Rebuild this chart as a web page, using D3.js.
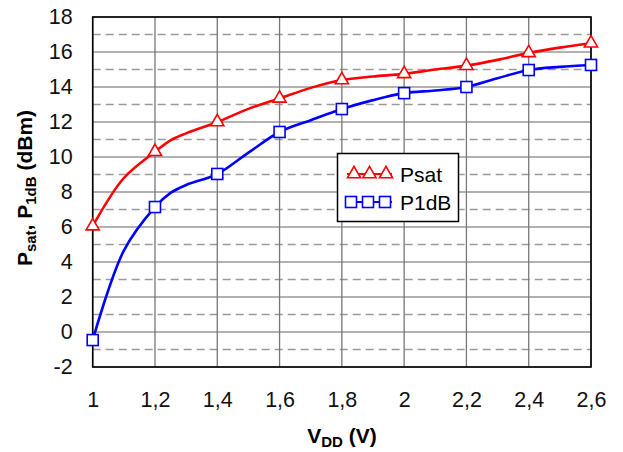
<!DOCTYPE html>
<html><head><meta charset="utf-8">
<script src="https://cdn.jsdelivr.net/npm/d3@7"></script>
<style>body{margin:0;background:#fff}svg{display:block}text{font-family:"Liberation Sans",Arial,sans-serif}</style>
</head><body><svg id="c" width="623" height="452"></svg>
<script>
// Data
const vdd = [1.0, 1.2, 1.4, 1.6, 1.8, 2.0, 2.2, 2.4, 2.6];
const psat = [6.05, 10.3, 12.0, 13.35, 14.4, 14.75, 15.22, 15.95, 16.5];
const p1db = [-0.46, 7.14, 9.03, 11.43, 12.74, 13.65, 14.0, 14.97, 15.26];
// Smoothed line traces (denser readings)
const lineX = [1.0, 1.1, 1.2, 1.25, 1.3, 1.4, 1.5, 1.6, 1.7, 1.8, 1.9, 2.0, 2.1, 2.2, 2.3, 2.4, 2.5, 2.6];
const psatLine = [6.05, 8.8, 10.3, 10.95, 11.35, 12.0, 12.75, 13.35, 13.95, 14.4, 14.6, 14.75, 15.0, 15.22, 15.55, 15.95, 16.25, 16.5];
const p1dbLine = [-0.46, 4.65, 7.14, 7.95, 8.4, 9.03, 10.25, 11.43, 12.1, 12.74, 13.25, 13.65, 13.8, 14.0, 14.5, 14.97, 15.15, 15.26];
const xTicks = [1.0, 1.2, 1.4, 1.6, 1.8, 2.0, 2.2, 2.4, 2.6];
const xTickLabels = ["1", "1,2", "1,4", "1,6", "1,8", "2", "2,2", "2,4", "2,6"];
const yTicks = [-2, 0, 2, 4, 6, 8, 10, 12, 14, 16, 18];
const yTickLabels = ["-2", "0", "2", "4", "6", "8", "10", "12", "14", "16", "18"];
const yMinor = [-1, 1, 3, 5, 7, 9, 11, 13, 15, 17];
const seriesNames = ["Psat", "P1dB"];

const svg = d3.select("#c");
const L = 92.7, R = 591, T = 17, B = 367;
const x = d3.scaleLinear().domain([1.0, 2.6]).range([L, R]);
const y = d3.scaleLinear().domain([-2, 18]).range([B, T]);

// grid
const g = svg.append("g");
g.selectAll(".hm").data(yMinor).join("line")
  .attr("x1", L).attr("x2", R).attr("y1", d => y(d)).attr("y2", d => y(d))
  .attr("stroke", "#9a9a9a").attr("stroke-width", 1.3).attr("stroke-dasharray", "8,5");
g.selectAll(".hM").data(yTicks).join("line")
  .attr("x1", L).attr("x2", R).attr("y1", d => y(d)).attr("y2", d => y(d))
  .attr("stroke", "#999").attr("stroke-width", 1.3);
g.selectAll(".v").data(xTicks).join("line")
  .attr("x1", d => x(d)).attr("x2", d => x(d)).attr("y1", T).attr("y2", B)
  .attr("stroke", "#777").attr("stroke-width", 1.3);

// frame
svg.append("rect").attr("x", L).attr("y", T).attr("width", R - L).attr("height", B - T)
  .attr("fill", "none").attr("stroke", "#000").attr("stroke-width", 1.6);

// axes labels
const yAxis = d3.axisLeft(y).tickValues(yTicks).tickSize(0).tickPadding(20)
  .tickFormat((d, i) => yTickLabels[i]);
const ya = svg.append("g").attr("transform", `translate(${L},0)`).call(yAxis);
ya.select(".domain").remove();
ya.selectAll("text").attr("font-size", 21.5).attr("fill", "#111").attr("font-family", "Liberation Sans, Arial, sans-serif");

const xAxis = d3.axisBottom(x).tickValues(xTicks).tickSize(0).tickPadding(25)
  .tickFormat((d, i) => xTickLabels[i]);
const xa = svg.append("g").attr("transform", `translate(0,${B})`).call(xAxis);
xa.select(".domain").remove();
xa.selectAll("text").attr("font-size", 21.5).attr("fill", "#111").attr("font-family", "Liberation Sans, Arial, sans-serif");

// lines
const line = d3.line().curve(d3.curveCatmullRom.alpha(0.5));
svg.append("path").datum(lineX.map((d, i) => [x(d), y(psatLine[i])]))
  .attr("d", line).attr("fill", "none").attr("stroke", "#ff0000").attr("stroke-width", 2.6);
svg.append("path").datum(lineX.map((d, i) => [x(d), y(p1dbLine[i])]))
  .attr("d", line).attr("fill", "none").attr("stroke", "#0000ff").attr("stroke-width", 2.6);

const tri = d3.symbol().type(d3.symbolTriangle).size(75);
function drawTri(sel, cx, cy) {
  sel.append("path").attr("d", tri).attr("transform", `translate(${cx},${cy})`)
    .attr("fill", "#fff").attr("stroke", "#ff0000").attr("stroke-width", 1.6);
}
function drawSq(sel, cx, cy) {
  sel.append("rect").attr("x", cx - 5.5).attr("y", cy - 5.5).attr("width", 11).attr("height", 11)
    .attr("fill", "#fff").attr("stroke", "#0000ff").attr("stroke-width", 1.6);
}
vdd.forEach((v, i) => drawTri(svg, x(v), y(psat[i])));
vdd.forEach((v, i) => drawSq(svg, x(v), y(p1db[i])));

// legend
const lg = svg.append("g");
lg.append("rect").attr("x", 337.5).attr("y", 153.5).attr("width", 121).attr("height", 68)
  .attr("fill", "#fff").attr("stroke", "#000").attr("stroke-width", 1.5);
const rows = [174, 202];
lg.append("line").attr("x1", 347).attr("x2", 392).attr("y1", rows[0]).attr("y2", rows[0]).attr("stroke", "#ff0000").attr("stroke-width", 2.2);
lg.append("line").attr("x1", 347).attr("x2", 392).attr("y1", rows[1]).attr("y2", rows[1]).attr("stroke", "#0000ff").attr("stroke-width", 2.2);
[354, 369.5, 386].forEach(cx => drawTri(lg, cx, rows[0]));
[351, 368, 385].forEach(cx => drawSq(lg, cx, rows[1]));
seriesNames.forEach((n, i) => lg.append("text").attr("x", 400).attr("y", rows[i] + 7.5).attr("font-size", 21).text(n));

// axis titles
const xt = svg.append("text").attr("x", 342).attr("y", 443).attr("text-anchor", "middle")
  .attr("font-size", 21).attr("font-weight", "bold");
xt.append("tspan").text("V");
xt.append("tspan").attr("font-size", 15).attr("dy", 4).text("DD");
xt.append("tspan").attr("dy", -4).text(" (V)");

const yt = svg.append("text").attr("transform", "translate(32,188) rotate(-90)").attr("text-anchor", "middle")
  .attr("font-size", 21).attr("font-weight", "bold");
yt.append("tspan").text("P");
yt.append("tspan").attr("font-size", 15).attr("dy", 4).text("sat");
yt.append("tspan").attr("dy", -4).text(", P");
yt.append("tspan").attr("font-size", 15).attr("dy", 4).text("1dB");
yt.append("tspan").attr("dy", -4).text(" (dBm)");
</script></body></html>
